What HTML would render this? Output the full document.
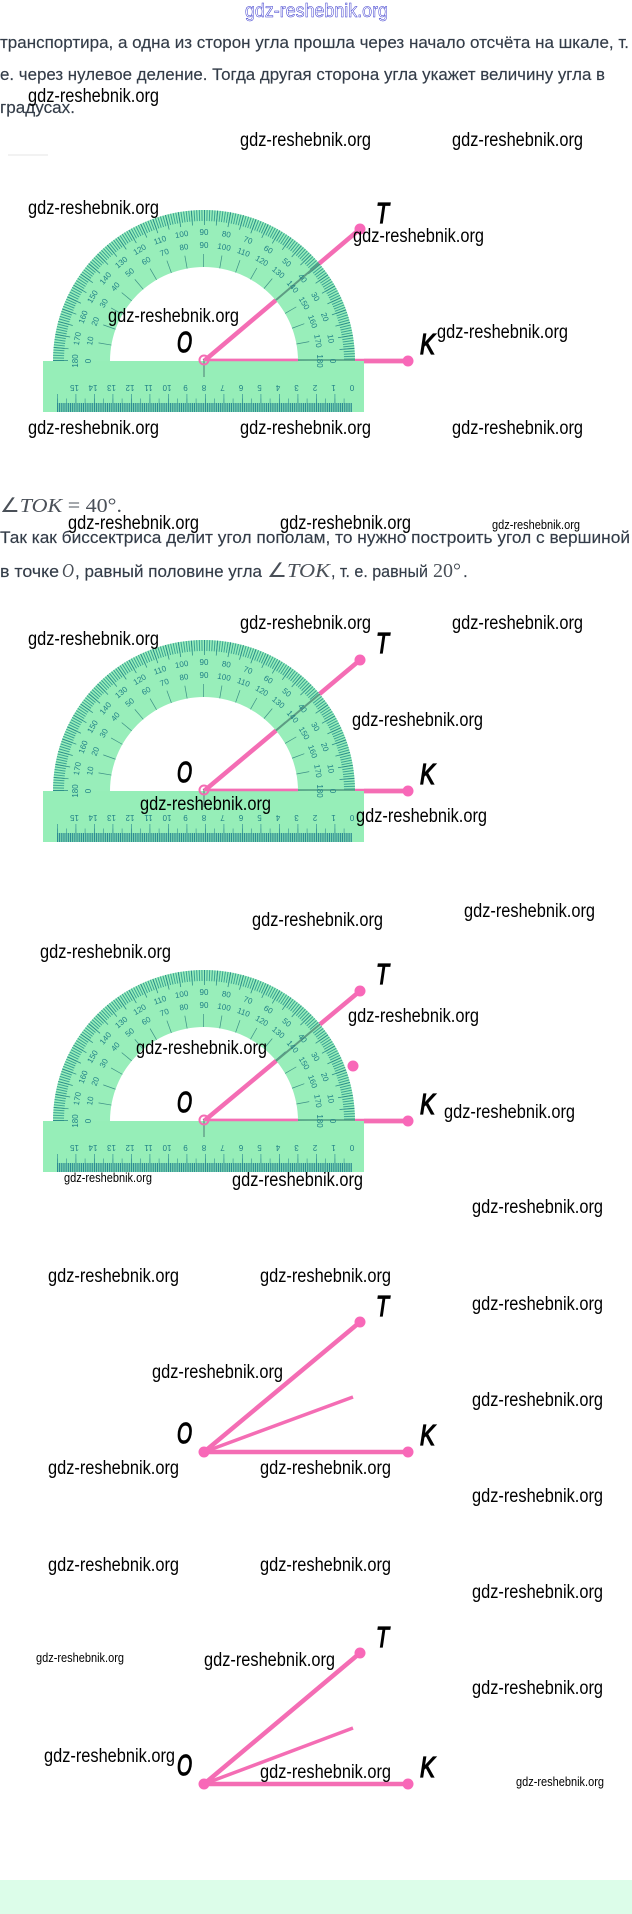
<!DOCTYPE html>
<html><head><meta charset="utf-8"><style>
html,body{margin:0;padding:0;background:#fff}
svg{display:block}
.w{font:19.5px "Liberation Sans",sans-serif;fill:#000}
.s{font:13px "Liberation Sans",sans-serif;fill:#000}
.b{font:17px "Liberation Sans",sans-serif;fill:#333c48;stroke:#333c48;stroke-width:.15}
.m{font:20px "Liberation Serif",serif;fill:#4a5058}
.i{font-style:italic}
.L{font:italic 29px "Liberation Sans",sans-serif;fill:#000;stroke:#000;stroke-width:1.3}
.n text{font:8px "Liberation Sans",sans-serif;fill:#1f7f86;text-anchor:middle}
</style></head><body>
<svg width="632" height="1914" viewBox="0 0 632 1914" xmlns="http://www.w3.org/2000/svg">
<defs>
<clipPath id="u"><rect x="-160" y="-160" width="320" height="160"/></clipPath>
<g id="geo">
<path d="M-151 0A151 151 0 0 1 151 0H94A94 94 0 0 0-94 0Z" fill="#98eeba"/>
<g clip-path="url(#u)" fill="none" stroke="#2f9a8f">
<circle r="145.5" stroke-width="11" stroke-dasharray="1 1.5384" opacity=".9"/>
<circle r="143.5" stroke-width="15" pathLength="360" stroke-dasharray="0.3 4.7" stroke="#2a8a88"/>
<circle r="100.5" stroke-width="13" pathLength="360" stroke-dasharray="0.4 9.6" stroke-dashoffset="0.2" stroke="#3c8f86"/>
</g>
<rect x="-161" y="0" width="321" height="51" fill="#96eeb8"/>
<g fill="none" stroke="#2c8b92">
<path d="M-147 46.5H148" stroke-width="9" stroke-dasharray="1.1 .75"/>
<path d="M-147 40H148" stroke-width="5" stroke-dasharray="0.7 8.55" opacity=".8"/>
<path d="M-147 38H148" stroke-width="10" stroke-dasharray="0.8 17.7" opacity=".8"/>
<path d="M0 -2V16" stroke-width="1.2" stroke="#5a8f80"/>
</g>
</g>
</defs>

<!-- header text -->
<text x="245" y="17" textLength="143" lengthAdjust="spacingAndGlyphs" style="font:19px 'Liberation Sans',sans-serif;fill:#fff;stroke:#3232cc;stroke-width:.5">gdz-reshebnik.org</text>
<text class="b" x="0" y="48" textLength="629" lengthAdjust="spacingAndGlyphs">транспортира, а одна из сторон угла прошла через начало отсчёта на шкале, т.</text>
<text class="b" x="0" y="80" textLength="605" lengthAdjust="spacingAndGlyphs">е. через нулевое деление. Тогда другая сторона угла укажет величину угла в</text>
<text class="b" x="0" y="113" textLength="75" lengthAdjust="spacingAndGlyphs">градусах.</text>
<rect x="8" y="154" width="40" height="2" fill="#f2f2f2"/>

<!-- Diagram 1 -->
<g transform="translate(204,361)">
<path d="M0 0L156 -132" stroke="#f46db4" stroke-width="4.5"/>
<path d="M0 0H204" stroke="#f46db4" stroke-width="4.5"/>
<use href="#geo"/>
<path d="M72 -61L115 -97.500" stroke="#5d9c83" stroke-width="2"/>
<path d="M94 -1H151" stroke="#4f9a80" stroke-width="1.500"/>
<path d="M0 -1H94" stroke="#f46db4" stroke-width="2.500"/>
<path d="M160 0H204" stroke="#f46db4" stroke-width="4.500"/>
<circle cx="156" cy="-132" r="5.500" fill="#f868b8"/><circle cx="204" cy="0" r="5.500" fill="#f868b8"/>
<circle cx="0" cy="-1" r="4.500" fill="none" stroke="#f46db4" stroke-width="2"/>
<g class="n">
<text transform="rotate(-90)" y="-126">180</text><text transform="rotate(-80)" y="-126">170</text><text transform="rotate(-70)" y="-126">160</text><text transform="rotate(-60)" y="-126">150</text><text transform="rotate(-50)" y="-126">140</text><text transform="rotate(-40)" y="-126">130</text><text transform="rotate(-30)" y="-126">120</text><text transform="rotate(-20)" y="-126">110</text><text transform="rotate(-10)" y="-126">100</text><text y="-126">90</text><text transform="rotate(10)" y="-126">80</text><text transform="rotate(20)" y="-126">70</text><text transform="rotate(30)" y="-126">60</text><text transform="rotate(40)" y="-126">50</text><text transform="rotate(50)" y="-126">40</text><text transform="rotate(60)" y="-126">30</text><text transform="rotate(70)" y="-126">20</text><text transform="rotate(80)" y="-126">10</text><text transform="rotate(90)" y="-126">0</text>
<text transform="rotate(-90)" y="-113">0</text><text transform="rotate(-80)" y="-113">10</text><text transform="rotate(-70)" y="-113">20</text><text transform="rotate(-60)" y="-113">30</text><text transform="rotate(-50)" y="-113">40</text><text transform="rotate(-40)" y="-113">50</text><text transform="rotate(-30)" y="-113">60</text><text transform="rotate(-20)" y="-113">70</text><text transform="rotate(-10)" y="-113">80</text><text y="-113">90</text><text transform="rotate(10)" y="-113">100</text><text transform="rotate(20)" y="-113">110</text><text transform="rotate(30)" y="-113">120</text><text transform="rotate(40)" y="-113">130</text><text transform="rotate(50)" y="-113">140</text><text transform="rotate(60)" y="-113">150</text><text transform="rotate(70)" y="-113">160</text><text transform="rotate(80)" y="-113">170</text><text transform="rotate(90)" y="-113">180</text>
<text transform="translate(-129.500,24) rotate(180)">15</text><text transform="translate(-111,24) rotate(180)">14</text><text transform="translate(-92.500,24) rotate(180)">13</text><text transform="translate(-74,24) rotate(180)">12</text><text transform="translate(-55.500,24) rotate(180)">11</text><text transform="translate(-37,24) rotate(180)">10</text><text transform="translate(-18.500,24) rotate(180)">9</text><text transform="translate(0,24) rotate(180)">8</text><text transform="translate(18.500,24) rotate(180)">7</text><text transform="translate(37,24) rotate(180)">6</text><text transform="translate(55.500,24) rotate(180)">5</text><text transform="translate(74,24) rotate(180)">4</text><text transform="translate(92.500,24) rotate(180)">3</text><text transform="translate(111,24) rotate(180)">2</text><text transform="translate(129.500,24) rotate(180)">1</text><text transform="translate(148,24) rotate(180)">0</text>
</g>
<text class="L" x="172" y="-138" textLength="13" lengthAdjust="spacingAndGlyphs">T</text>
<text class="L" x="-27" y="-9" textLength="15" lengthAdjust="spacingAndGlyphs">O</text>
<text class="L" x="216" y="-7" textLength="15" lengthAdjust="spacingAndGlyphs">K</text>
</g>

<!-- Math text -->
<text class="m" x="0" y="512" textLength="122" lengthAdjust="spacingAndGlyphs">∠<tspan class="i">TOK</tspan> = 40°.</text>
<text class="b" x="0" y="543" textLength="630" lengthAdjust="spacingAndGlyphs">Так как биссектриса делит угол пополам, то нужно построить угол с вершиной</text>
<text class="b" x="0" y="577" textLength="59" lengthAdjust="spacingAndGlyphs">в точке</text>
<text class="m i" x="62" y="577" textLength="12" lengthAdjust="spacingAndGlyphs">O</text>
<text class="b" x="75" y="577" textLength="187" lengthAdjust="spacingAndGlyphs">, равный половине угла</text>
<text class="m" x="267" y="577" textLength="63" lengthAdjust="spacingAndGlyphs">∠<tspan class="i">TOK</tspan></text>
<text class="b" x="331" y="577" textLength="97" lengthAdjust="spacingAndGlyphs">, т. е. равный</text>
<text class="m" x="433" y="577" textLength="28" lengthAdjust="spacingAndGlyphs">20°</text>
<text class="b" x="463" y="577">.</text>

<!-- Diagram 2 -->
<g transform="translate(204,791)">
<path d="M0 0L156 -131" stroke="#f46db4" stroke-width="4.5"/>
<path d="M0 0H204" stroke="#f46db4" stroke-width="4.5"/>
<use href="#geo"/>
<path d="M72 -60.500L115 -96.500" stroke="#5d9c83" stroke-width="2"/>
<path d="M94 -1H151" stroke="#4f9a80" stroke-width="1.500"/>
<path d="M0 -1H94" stroke="#f46db4" stroke-width="2.500"/>
<path d="M160 0H204" stroke="#f46db4" stroke-width="4.500"/>
<circle cx="156" cy="-131" r="5.500" fill="#f868b8"/><circle cx="204" cy="0" r="5.500" fill="#f868b8"/>
<circle cx="0" cy="-1" r="4.500" fill="none" stroke="#f46db4" stroke-width="2"/>
<g class="n">
<text transform="rotate(-90)" y="-126">180</text><text transform="rotate(-80)" y="-126">170</text><text transform="rotate(-70)" y="-126">160</text><text transform="rotate(-60)" y="-126">150</text><text transform="rotate(-50)" y="-126">140</text><text transform="rotate(-40)" y="-126">130</text><text transform="rotate(-30)" y="-126">120</text><text transform="rotate(-20)" y="-126">110</text><text transform="rotate(-10)" y="-126">100</text><text y="-126">90</text><text transform="rotate(10)" y="-126">80</text><text transform="rotate(20)" y="-126">70</text><text transform="rotate(30)" y="-126">60</text><text transform="rotate(40)" y="-126">50</text><text transform="rotate(50)" y="-126">40</text><text transform="rotate(60)" y="-126">30</text><text transform="rotate(70)" y="-126">20</text><text transform="rotate(80)" y="-126">10</text><text transform="rotate(90)" y="-126">0</text>
<text transform="rotate(-90)" y="-113">0</text><text transform="rotate(-80)" y="-113">10</text><text transform="rotate(-70)" y="-113">20</text><text transform="rotate(-60)" y="-113">30</text><text transform="rotate(-50)" y="-113">40</text><text transform="rotate(-40)" y="-113">50</text><text transform="rotate(-30)" y="-113">60</text><text transform="rotate(-20)" y="-113">70</text><text transform="rotate(-10)" y="-113">80</text><text y="-113">90</text><text transform="rotate(10)" y="-113">100</text><text transform="rotate(20)" y="-113">110</text><text transform="rotate(30)" y="-113">120</text><text transform="rotate(40)" y="-113">130</text><text transform="rotate(50)" y="-113">140</text><text transform="rotate(60)" y="-113">150</text><text transform="rotate(70)" y="-113">160</text><text transform="rotate(80)" y="-113">170</text><text transform="rotate(90)" y="-113">180</text>
<text transform="translate(-129.500,24) rotate(180)">15</text><text transform="translate(-111,24) rotate(180)">14</text><text transform="translate(-92.500,24) rotate(180)">13</text><text transform="translate(-74,24) rotate(180)">12</text><text transform="translate(-55.500,24) rotate(180)">11</text><text transform="translate(-37,24) rotate(180)">10</text><text transform="translate(-18.500,24) rotate(180)">9</text><text transform="translate(0,24) rotate(180)">8</text><text transform="translate(18.500,24) rotate(180)">7</text><text transform="translate(37,24) rotate(180)">6</text><text transform="translate(55.500,24) rotate(180)">5</text><text transform="translate(74,24) rotate(180)">4</text><text transform="translate(92.500,24) rotate(180)">3</text><text transform="translate(111,24) rotate(180)">2</text><text transform="translate(129.500,24) rotate(180)">1</text><text transform="translate(148,24) rotate(180)">0</text>
</g>
<text class="L" x="172" y="-138" textLength="13" lengthAdjust="spacingAndGlyphs">T</text>
<text class="L" x="-27" y="-9" textLength="15" lengthAdjust="spacingAndGlyphs">O</text>
<text class="L" x="216" y="-7" textLength="15" lengthAdjust="spacingAndGlyphs">K</text>
</g>

<!-- Diagram 3 -->
<g transform="translate(204,1121)">
<path d="M0 0L156 -130" stroke="#f46db4" stroke-width="4.5"/>
<path d="M0 0H204" stroke="#f46db4" stroke-width="4.5"/>
<use href="#geo"/>
<path d="M72 -60L115 -96" stroke="#5d9c83" stroke-width="2"/>
<path d="M94 -1H151" stroke="#4f9a80" stroke-width="1.500"/>
<path d="M0 -1H94" stroke="#f46db4" stroke-width="2.500"/>
<path d="M160 0H204" stroke="#f46db4" stroke-width="4.500"/>
<circle cx="156" cy="-130" r="5.500" fill="#f868b8"/><circle cx="204" cy="0" r="5.500" fill="#f868b8"/><circle cx="149" cy="-55" r="5.500" fill="#f868b8"/>
<circle cx="0" cy="-1" r="4.500" fill="none" stroke="#f46db4" stroke-width="2"/>
<g class="n">
<text transform="rotate(-90)" y="-126">180</text><text transform="rotate(-80)" y="-126">170</text><text transform="rotate(-70)" y="-126">160</text><text transform="rotate(-60)" y="-126">150</text><text transform="rotate(-50)" y="-126">140</text><text transform="rotate(-40)" y="-126">130</text><text transform="rotate(-30)" y="-126">120</text><text transform="rotate(-20)" y="-126">110</text><text transform="rotate(-10)" y="-126">100</text><text y="-126">90</text><text transform="rotate(10)" y="-126">80</text><text transform="rotate(20)" y="-126">70</text><text transform="rotate(30)" y="-126">60</text><text transform="rotate(40)" y="-126">50</text><text transform="rotate(50)" y="-126">40</text><text transform="rotate(60)" y="-126">30</text><text transform="rotate(70)" y="-126">20</text><text transform="rotate(80)" y="-126">10</text><text transform="rotate(90)" y="-126">0</text>
<text transform="rotate(-90)" y="-113">0</text><text transform="rotate(-80)" y="-113">10</text><text transform="rotate(-70)" y="-113">20</text><text transform="rotate(-60)" y="-113">30</text><text transform="rotate(-50)" y="-113">40</text><text transform="rotate(-40)" y="-113">50</text><text transform="rotate(-30)" y="-113">60</text><text transform="rotate(-20)" y="-113">70</text><text transform="rotate(-10)" y="-113">80</text><text y="-113">90</text><text transform="rotate(10)" y="-113">100</text><text transform="rotate(20)" y="-113">110</text><text transform="rotate(30)" y="-113">120</text><text transform="rotate(40)" y="-113">130</text><text transform="rotate(50)" y="-113">140</text><text transform="rotate(60)" y="-113">150</text><text transform="rotate(70)" y="-113">160</text><text transform="rotate(80)" y="-113">170</text><text transform="rotate(90)" y="-113">180</text>
<text transform="translate(-129.500,24) rotate(180)">15</text><text transform="translate(-111,24) rotate(180)">14</text><text transform="translate(-92.500,24) rotate(180)">13</text><text transform="translate(-74,24) rotate(180)">12</text><text transform="translate(-55.500,24) rotate(180)">11</text><text transform="translate(-37,24) rotate(180)">10</text><text transform="translate(-18.500,24) rotate(180)">9</text><text transform="translate(0,24) rotate(180)">8</text><text transform="translate(18.500,24) rotate(180)">7</text><text transform="translate(37,24) rotate(180)">6</text><text transform="translate(55.500,24) rotate(180)">5</text><text transform="translate(74,24) rotate(180)">4</text><text transform="translate(92.500,24) rotate(180)">3</text><text transform="translate(111,24) rotate(180)">2</text><text transform="translate(129.500,24) rotate(180)">1</text><text transform="translate(148,24) rotate(180)">0</text>
</g>
<text class="L" x="172" y="-137" textLength="13" lengthAdjust="spacingAndGlyphs">T</text>
<text class="L" x="-27" y="-9" textLength="15" lengthAdjust="spacingAndGlyphs">O</text>
<text class="L" x="216" y="-7" textLength="15" lengthAdjust="spacingAndGlyphs">K</text>
</g>

<!-- Diagram 4 -->
<g transform="translate(204,1452)">
<path d="M0 0L156 -130M0 0H204" stroke="#f46db4" stroke-width="4.5"/>
<path d="M0 0L149 -55" stroke="#f46db4" stroke-width="3.5"/>
<circle cx="156" cy="-130" r="5.500" fill="#f868b8"/><circle cx="204" cy="0" r="5.500" fill="#f868b8"/><circle cx="0" cy="0" r="5.500" fill="#f868b8"/>
<text class="L" x="172" y="-136" textLength="13" lengthAdjust="spacingAndGlyphs">T</text>
<text class="L" x="-27" y="-9" textLength="15" lengthAdjust="spacingAndGlyphs">O</text>
<text class="L" x="216" y="-7" textLength="15" lengthAdjust="spacingAndGlyphs">K</text>
</g>

<!-- Diagram 5 -->
<g transform="translate(204,1784)">
<path d="M0 0L156 -131M0 0H204" stroke="#f46db4" stroke-width="4.5"/>
<path d="M0 0L149 -56" stroke="#f46db4" stroke-width="3.5"/>
<circle cx="156" cy="-131" r="5.500" fill="#f868b8"/><circle cx="204" cy="0" r="5.500" fill="#f868b8"/><circle cx="0" cy="0" r="5.500" fill="#f868b8"/>
<text class="L" x="172" y="-137" textLength="13" lengthAdjust="spacingAndGlyphs">T</text>
<text class="L" x="-27" y="-9" textLength="15" lengthAdjust="spacingAndGlyphs">O</text>
<text class="L" x="216" y="-7" textLength="15" lengthAdjust="spacingAndGlyphs">K</text>
</g>

<rect x="0" y="1880" width="632" height="34" fill="#dcfde9"/>

<!-- Watermarks -->
<g>
<text class="w" x="28" y="102" textLength="131" lengthAdjust="spacingAndGlyphs">gdz-reshebnik.org</text>
<text class="w" x="240" y="146" textLength="131" lengthAdjust="spacingAndGlyphs">gdz-reshebnik.org</text>
<text class="w" x="452" y="146" textLength="131" lengthAdjust="spacingAndGlyphs">gdz-reshebnik.org</text>
<text class="w" x="28" y="214" textLength="131" lengthAdjust="spacingAndGlyphs">gdz-reshebnik.org</text>
<text class="w" x="353" y="242" textLength="131" lengthAdjust="spacingAndGlyphs">gdz-reshebnik.org</text>
<text class="w" x="108" y="322" textLength="131" lengthAdjust="spacingAndGlyphs">gdz-reshebnik.org</text>
<text class="w" x="437" y="338" textLength="131" lengthAdjust="spacingAndGlyphs">gdz-reshebnik.org</text>
<text class="w" x="28" y="434" textLength="131" lengthAdjust="spacingAndGlyphs">gdz-reshebnik.org</text>
<text class="w" x="240" y="434" textLength="131" lengthAdjust="spacingAndGlyphs">gdz-reshebnik.org</text>
<text class="w" x="452" y="434" textLength="131" lengthAdjust="spacingAndGlyphs">gdz-reshebnik.org</text>
<text class="w" x="68" y="529" textLength="131" lengthAdjust="spacingAndGlyphs">gdz-reshebnik.org</text>
<text class="w" x="280" y="529" textLength="131" lengthAdjust="spacingAndGlyphs">gdz-reshebnik.org</text>
<text class="s" x="492" y="529" textLength="88" lengthAdjust="spacingAndGlyphs">gdz-reshebnik.org</text>
<text class="w" x="240" y="629" textLength="131" lengthAdjust="spacingAndGlyphs">gdz-reshebnik.org</text>
<text class="w" x="452" y="629" textLength="131" lengthAdjust="spacingAndGlyphs">gdz-reshebnik.org</text>
<text class="w" x="28" y="645" textLength="131" lengthAdjust="spacingAndGlyphs">gdz-reshebnik.org</text>
<text class="w" x="352" y="726" textLength="131" lengthAdjust="spacingAndGlyphs">gdz-reshebnik.org</text>
<text class="w" x="140" y="810" textLength="131" lengthAdjust="spacingAndGlyphs">gdz-reshebnik.org</text>
<text class="w" x="356" y="822" textLength="131" lengthAdjust="spacingAndGlyphs">gdz-reshebnik.org</text>
<text class="w" x="464" y="917" textLength="131" lengthAdjust="spacingAndGlyphs">gdz-reshebnik.org</text>
<text class="w" x="252" y="926" textLength="131" lengthAdjust="spacingAndGlyphs">gdz-reshebnik.org</text>
<text class="w" x="40" y="958" textLength="131" lengthAdjust="spacingAndGlyphs">gdz-reshebnik.org</text>
<text class="w" x="348" y="1022" textLength="131" lengthAdjust="spacingAndGlyphs">gdz-reshebnik.org</text>
<text class="w" x="136" y="1054" textLength="131" lengthAdjust="spacingAndGlyphs">gdz-reshebnik.org</text>
<text class="w" x="444" y="1118" textLength="131" lengthAdjust="spacingAndGlyphs">gdz-reshebnik.org</text>
<text class="s" x="64" y="1182" textLength="88" lengthAdjust="spacingAndGlyphs">gdz-reshebnik.org</text>
<text class="w" x="232" y="1186" textLength="131" lengthAdjust="spacingAndGlyphs">gdz-reshebnik.org</text>
<text class="w" x="472" y="1213" textLength="131" lengthAdjust="spacingAndGlyphs">gdz-reshebnik.org</text>
<text class="w" x="48" y="1282" textLength="131" lengthAdjust="spacingAndGlyphs">gdz-reshebnik.org</text>
<text class="w" x="260" y="1282" textLength="131" lengthAdjust="spacingAndGlyphs">gdz-reshebnik.org</text>
<text class="w" x="472" y="1310" textLength="131" lengthAdjust="spacingAndGlyphs">gdz-reshebnik.org</text>
<text class="w" x="152" y="1378" textLength="131" lengthAdjust="spacingAndGlyphs">gdz-reshebnik.org</text>
<text class="w" x="472" y="1406" textLength="131" lengthAdjust="spacingAndGlyphs">gdz-reshebnik.org</text>
<text class="w" x="48" y="1474" textLength="131" lengthAdjust="spacingAndGlyphs">gdz-reshebnik.org</text>
<text class="w" x="260" y="1474" textLength="131" lengthAdjust="spacingAndGlyphs">gdz-reshebnik.org</text>
<text class="w" x="472" y="1502" textLength="131" lengthAdjust="spacingAndGlyphs">gdz-reshebnik.org</text>
<text class="w" x="48" y="1571" textLength="131" lengthAdjust="spacingAndGlyphs">gdz-reshebnik.org</text>
<text class="w" x="260" y="1571" textLength="131" lengthAdjust="spacingAndGlyphs">gdz-reshebnik.org</text>
<text class="w" x="472" y="1598" textLength="131" lengthAdjust="spacingAndGlyphs">gdz-reshebnik.org</text>
<text class="s" x="36" y="1662" textLength="88" lengthAdjust="spacingAndGlyphs">gdz-reshebnik.org</text>
<text class="w" x="204" y="1666" textLength="131" lengthAdjust="spacingAndGlyphs">gdz-reshebnik.org</text>
<text class="w" x="472" y="1694" textLength="131" lengthAdjust="spacingAndGlyphs">gdz-reshebnik.org</text>
<text class="w" x="44" y="1762" textLength="131" lengthAdjust="spacingAndGlyphs">gdz-reshebnik.org</text>
<text class="w" x="260" y="1778" textLength="131" lengthAdjust="spacingAndGlyphs">gdz-reshebnik.org</text>
<text class="s" x="516" y="1786" textLength="88" lengthAdjust="spacingAndGlyphs">gdz-reshebnik.org</text>
</g>
</svg>
</body></html>
